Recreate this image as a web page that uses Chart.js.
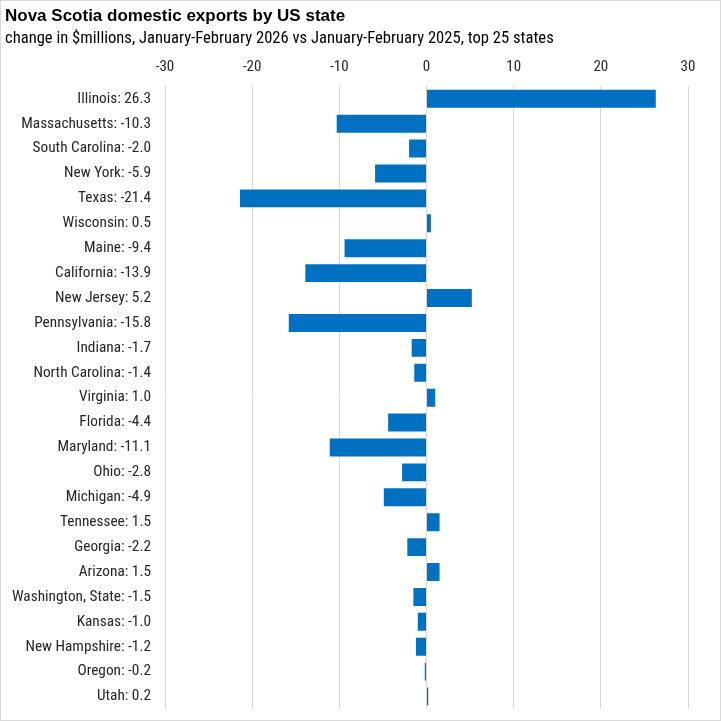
<!DOCTYPE html>
<html>
<head>
<meta charset="utf-8">
<script src="https://cdn.jsdelivr.net/npm/chart.js@4.4.1/dist/chart.umd.min.js"></script>
<style>
html,body{margin:0;padding:0;background:#fff;}
#wrap{width:721px;height:721px;position:relative;}
canvas{display:block;}
</style>
</head>
<body>
<div id="wrap"><canvas id="c" width="721" height="721"></canvas></div>
<script>
const titleText = "Nova Scotia domestic exports by US state";
const subtitleText = "change in $millions, January-February 2026 vs January-February 2025, top 25 states";
const states = ["Illinois","Massachusetts","South Carolina","New York","Texas","Wisconsin","Maine","California","New Jersey","Pennsylvania","Indiana","North Carolina","Virginia","Florida","Maryland","Ohio","Michigan","Tennessee","Georgia","Arizona","Washington, State","Kansas","New Hampshire","Oregon","Utah"];
const changes = [26.3,-10.3,-2.0,-5.9,-21.4,0.5,-9.4,-13.9,5.2,-15.8,-1.7,-1.4,1.0,-4.4,-11.1,-2.8,-4.9,1.5,-2.2,1.5,-1.5,-1.0,-1.2,-0.2,0.2];
const xTicks = [-30,-20,-10,0,10,20,30];

const narrow = "'Liberation Sans Narrow','Roboto Condensed','Arial Narrow','Liberation Sans',sans-serif";
const labels = states.map((s,i)=> s + ": " + changes[i].toFixed(1));

const borderPlugin = {
  id:'outerBorder',
  afterDraw(chart){
    const ctx = chart.ctx;
    ctx.save();
    ctx.strokeStyle = '#d9d9d9';
    ctx.lineWidth = 1;
    ctx.strokeRect(0.5,0.5,chart.width-1,chart.height-1);
    ctx.restore();
  }
};

new Chart(document.getElementById('c'), {
  type:'bar',
  data:{
    labels: labels,
    datasets:[{
      data: changes,
      backgroundColor:'#0070C0',
      borderWidth:0,
      categoryPercentage:1.0,
      barPercentage:0.72
    }]
  },
  options:{
    indexAxis:'y',
    responsive:false,
    animation:false,
    devicePixelRatio:1,
    layout:{padding:{left:5,right:33,top:2,bottom:12}},
    plugins:{
      legend:{display:false},
      tooltip:{enabled:false},
      title:{
        display:true,
        text:titleText,
        align:'start',
        color:'#000',
        font:{family:"'Liberation Sans','Open Sans',sans-serif",size:17,weight:'bold'},
        padding:{top:4,bottom:2},
        fullSize:true
      },
      subtitle:{
        display:true,
        text:subtitleText,
        align:'start',
        color:'#000',
        font:{family:narrow,size:16.6},
        padding:{top:0,bottom:6}
      }
    },
    scales:{
      x:{
        position:'top',
        min:-30,max:30,
        afterBuildTicks(scale){ scale.ticks = xTicks.map(v=>({value:v})); },
        grid:{color:'#d9d9d9',lineWidth:1,drawTicks:false},
        border:{display:false},
        ticks:{color:'#262626',font:{family:narrow,size:15},padding:10},
        afterFit(scale){ scale.height = 32; }
      },
      y:{
        grid:{display:false,drawTicks:false},
        border:{display:false},
        ticks:{color:'#262626',font:{family:narrow,size:15.3},padding:14,autoSkip:false},
        afterFit(scale){ scale.width = 160; scale.paddingTop = 0; scale.paddingBottom = 0; }
      }
    }
  },
  plugins:[borderPlugin]
});
</script>
</body>
</html>
